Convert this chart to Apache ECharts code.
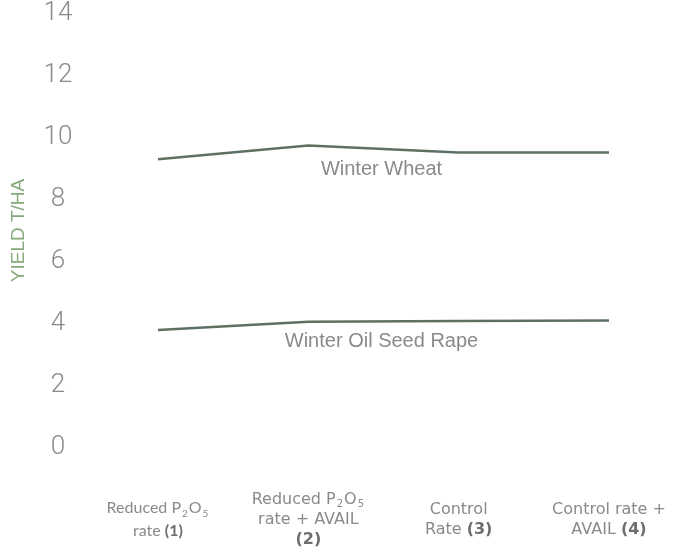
<!DOCTYPE html>
<html>
<head>
<meta charset="utf-8">
<title>Yield t/ha</title>
<script src="https://cdn.jsdelivr.net/npm/echarts@6/dist/echarts.min.js"></script>
<style>
  html, body { margin: 0; padding: 0; background: #ffffff; }
  #chart { width: 676px; height: 555px; }
</style>
</head>
<body>
<div id="chart"></div>
<script>
// Treatments along the x axis (rich-text markup gives the subscripts and bold numbers)
const categories = [
  '{l|Reduced P}{ls|2}{l|O}{ls|5}\n{l|rate }{lb|(1)}',
  'Reduced P{sub|2}O{sub|5}\nrate + AVAIL\n{b|(2)}',
  'Control\nRate {b|(3)}',
  'Control rate +\nAVAIL {b|(4)}'
];

// Yield, t/ha
const winterWheat = [9.30, 9.74, 9.52, 9.52];
const winterOilSeedRape = [3.79, 4.06, 4.08, 4.10];

// Y axis range and step
const yMin = 0;
const yMax = 14;
const yStep = 2;

const lineColor = '#5d7163';
const textGrey = '#8a8a8a';
const boldGrey = '#6e6e6e';
const wideFont = 'DejaVu Sans, sans-serif';
const narrowFont = 'Lato, Liberation Sans, sans-serif';

const chart = echarts.init(document.getElementById('chart'));

function toPairs(values) {
  return values.map((v, i) => [i, v]);
}

// Name label placed below the middle segment of each line
function midLabel(name, values, drop) {
  const a = values[1], b = values[2];
  return {
    data: [{
      coord: [1.5, (a + b) / 2],
      value: name
    }],
    symbol: 'circle',
    symbolSize: 0,
    silent: true,
    label: {
      show: true,
      position: 'inside',
      offset: [-2, drop],
      formatter: name,
      color: textGrey,
      fontSize: 20,
      fontFamily: 'Liberation Sans, Arial, sans-serif'
    }
  };
}

function lineSeries(name, values, drop) {
  return {
    name: name,
    type: 'line',
    data: toPairs(values),
    symbol: 'none',
    lineStyle: { color: lineColor, width: 2.5 },
    itemStyle: { color: lineColor },
    markPoint: midLabel(name, values, drop),
    animation: false
  };
}

chart.setOption({
  animation: false,
  backgroundColor: '#ffffff',
  grid: {
    left: 158, right: 67, top: 13.5, bottom: 107.5,
    outerBoundsMode: 'none',
    containLabel: false
  },
  xAxis: {
    type: 'value',
    min: 0,
    max: categories.length - 1,
    interval: 1,
    axisLine: { show: false },
    axisTick: { show: false },
    splitLine: { show: false },
    axisLabel: {
      margin: 72,
      verticalAlign: 'middle',
      align: 'center',
      color: textGrey,
      fontSize: 16,
      lineHeight: 20,
      fontFamily: wideFont,
      formatter: (v) => categories[Math.round(v)],
      rich: {
        sub: {
          fontSize: 10,
          color: textGrey,
          fontFamily: wideFont,
          padding: [10, 1, 0, 1]
        },
        b: {
          fontSize: 16,
          fontWeight: 'bold',
          color: boldGrey,
          fontFamily: wideFont
        },
        l: {
          fontSize: 16,
          color: textGrey,
          fontFamily: narrowFont,
          lineHeight: 23
        },
        ls: {
          fontSize: 10,
          color: textGrey,
          fontFamily: narrowFont,
          padding: [11, 1, 0, 1],
          lineHeight: 23
        },
        lb: {
          fontSize: 16,
          fontWeight: 'bold',
          color: boldGrey,
          fontFamily: narrowFont,
          lineHeight: 23
        }
      }
    }
  },
  yAxis: {
    type: 'value',
    min: yMin,
    max: yMax,
    interval: yStep,
    name: 'YIELD T/HA',
    nameLocation: 'middle',
    nameGap: 130,
    nameRotate: 90,
    nameTextStyle: {
      color: '#86a97c',
      fontSize: 19,
      fontFamily: 'Liberation Sans, sans-serif'
    },
    axisLine: { show: false },
    axisTick: { show: false },
    splitLine: { show: false },
    axisLabel: {
      margin: 100,
      align: 'center',
      padding: [4, 0, 0, 0],
      color: textGrey,
      fontSize: 26,
      fontWeight: 300,
      fontFamily: 'Roboto, Liberation Sans, sans-serif'
    }
  },
  series: [
    lineSeries('Winter Wheat', winterWheat, 21),
    lineSeries('Winter Oil Seed Rape', winterOilSeedRape, 20)
  ]
});
</script>
</body>
</html>
